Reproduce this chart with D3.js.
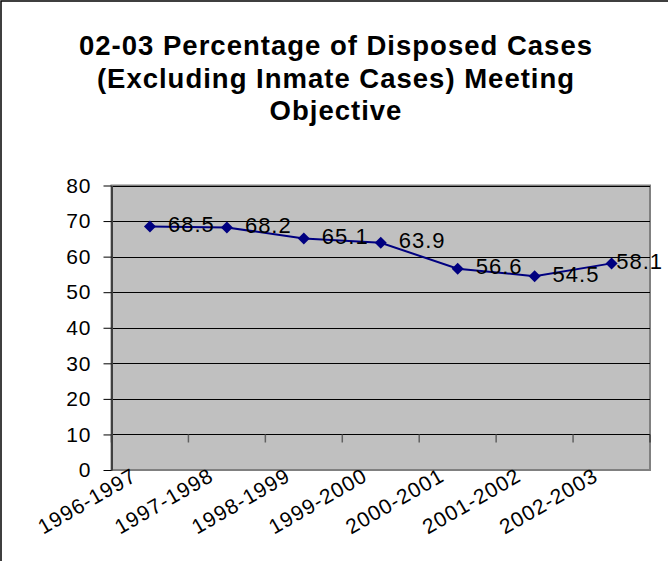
<!DOCTYPE html>
<html><head><meta charset="utf-8">
<script src="https://cdn.jsdelivr.net/npm/d3@7"></script>
<style>
html,body{margin:0;padding:0;background:#fff;}
svg{display:block;font-family:"Liberation Sans",Arial,sans-serif;}
</style></head>
<body>
<svg id="chart" width="668" height="561"></svg>
<script>
const titleLines = ["02-03 Percentage of Disposed Cases", "(Excluding Inmate Cases) Meeting", "Objective"];
const categories = ["1996-1997","1997-1998","1998-1999","1999-2000","2000-2001","2001-2002","2002-2003"];
const values = [68.5, 68.2, 65.1, 63.9, 56.6, 54.5, 58.1];
const yTicks = [0,10,20,30,40,50,60,70,80];
const xAxisCross = 10;

const svg = d3.select("#chart");
const W = 668, H = 561;
const plot = {left:111.5, right:650, top:185.5, bottom:470};

// outer border (only left/top visible)
svg.append("rect").attr("x",1).attr("y",1).attr("width",W+10).attr("height",H+10)
  .attr("fill","#fff").attr("stroke","#000").attr("stroke-width",1.5);

// title
const title = svg.append("text").attr("text-anchor","middle")
  .attr("font-weight","bold").attr("font-size",27.5).attr("letter-spacing",1).attr("fill","#000");
titleLines.forEach((t,i)=>{
  title.append("tspan").attr("x",336).attr("y",55 + i*32.5).text(t);
});

const x = d3.scaleBand().domain(categories).range([plot.left, plot.right]).padding(0);
const y = d3.scaleLinear().domain([0,80]).range([plot.bottom, plot.top]);

// plot background
svg.append("rect").attr("x",plot.left).attr("y",plot.top)
  .attr("width",plot.right-plot.left).attr("height",plot.bottom-plot.top)
  .attr("fill","#c0c0c0").attr("stroke","#808080").attr("stroke-width",2);

// gridlines
svg.append("g").selectAll("line").data(yTicks.filter(d=>d>0)).join("line")
  .attr("x1",plot.left).attr("x2",plot.right)
  .attr("y1",d=>Math.round(y(d))+0.5).attr("y2",d=>Math.round(y(d))+0.5)
  .attr("stroke","#000").attr("stroke-width",1);

// y axis
const yAxis = svg.append("g").attr("transform",`translate(${plot.left},0)`)
  .call(d3.axisLeft(y).tickValues(yTicks).tickSize(8).tickPadding(12).tickSizeOuter(0));
yAxis.select(".domain").attr("stroke","#404040").attr("stroke-width",2);
yAxis.selectAll(".tick line").attr("stroke","#000");
yAxis.selectAll(".tick text").attr("font-size",21).attr("letter-spacing",1)
  .attr("font-family","Liberation Sans, Arial, sans-serif").attr("fill","#000");

// x axis ticks at crossing value
const bounds = categories.map(c=>x(c)).concat([plot.right]);
const yc = Math.round(y(xAxisCross))+0.5;
svg.append("g").selectAll("line").data(bounds).join("line")
  .attr("x1",d=>d).attr("x2",d=>d).attr("y1",yc).attr("y2",yc+8)
  .attr("stroke",(d,i)=> (i===0||i===bounds.length-1) ? "#404040" : "#606060").attr("stroke-width",1.5);

// x labels
svg.append("g").selectAll("text").data(categories).join("text")
  .attr("transform",d=>`translate(${x(d)+x.bandwidth()/2-12},480) rotate(-30)`)
  .attr("text-anchor","end").attr("font-size",21).attr("letter-spacing",1)
  .attr("fill","#000").text(d=>d);

// line
const cx = (d,i)=>x(categories[i])+x.bandwidth()/2;
svg.append("path").datum(values)
  .attr("d",d3.line().x(cx).y(d=>y(d)))
  .attr("fill","none").attr("stroke","#000080").attr("stroke-width",2);

// markers
svg.append("g").selectAll("path").data(values).join("path")
  .attr("transform",(d,i)=>`translate(${cx(d,i)},${y(d)}) rotate(45)`)
  .attr("d",d3.symbol(d3.symbolSquare,72)())
  .attr("fill","#000080");

// data labels
const labels = svg.append("g").selectAll("text").data(values).join("text")
  .attr("font-size",22).attr("letter-spacing",1).attr("fill","#000")
  .attr("y",d=>y(d)-2).attr("dy","0.35em")
  .text(d=>d.toFixed(1));
labels.each(function(d,i){
  const w = this.getComputedTextLength();
  d3.select(this).attr("x", Math.min(cx(d,i)+18, 663 - w));
});
</script>
</body></html>
